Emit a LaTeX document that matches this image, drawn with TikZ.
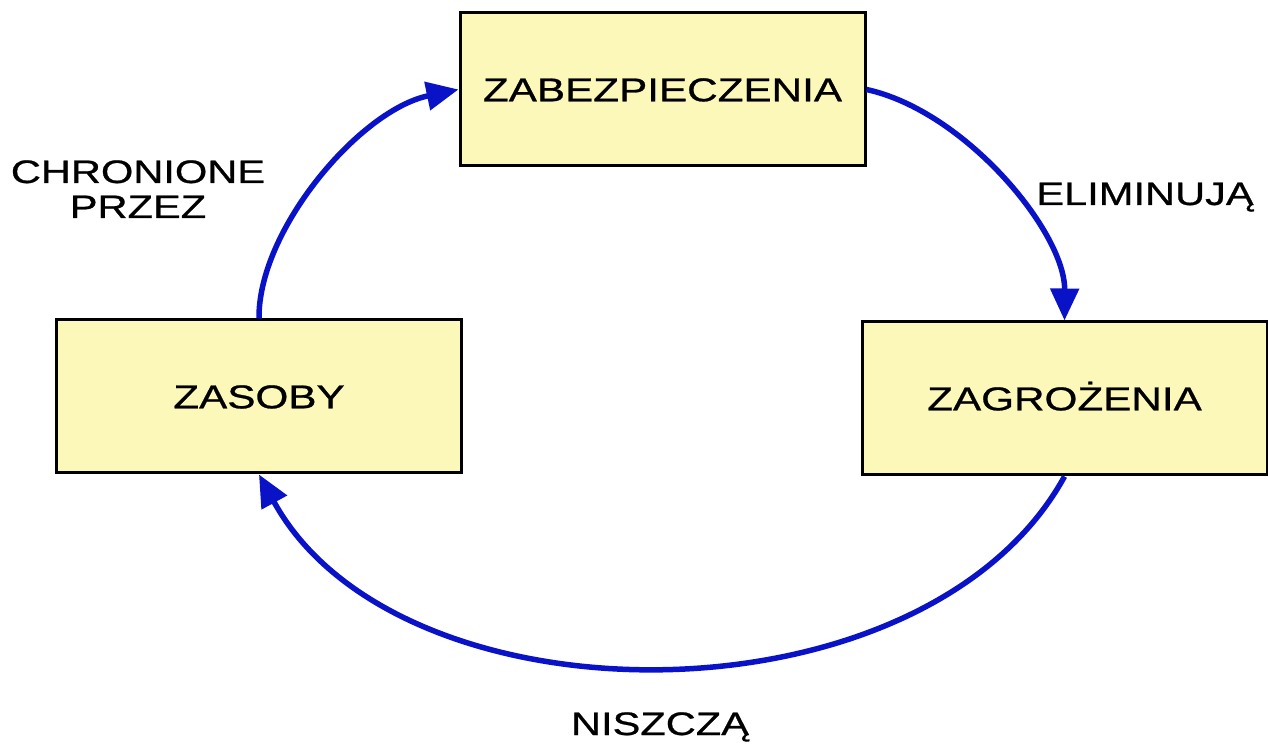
\documentclass[tikz,border=0pt]{standalone}
\usepackage{fontspec}
\setmainfont[FakeStretch=1.28,FakeBold=0.8]{Liberation Sans}
\usetikzlibrary{arrows.meta}
\definecolor{boxfill}{RGB}{251,248,186}
\definecolor{arrblue}{RGB}{10,18,200}
\tikzset{
  box/.style={draw=black, line width=3pt, fill=boxfill, minimum width=405pt, minimum height=153pt,
    inner sep=0pt, font=\fontsize{33}{37}\selectfont, text height=23.6pt, text depth=0pt},
  lbl/.style={inner sep=0pt, anchor=base, font=\fontsize{32.5}{36}\selectfont},
  arr/.style={draw=arrblue, line width=5.5pt, -{Triangle[length=32pt,width=28pt]}}
}
\begin{document}
\begin{tikzpicture}[x=1pt,y=1pt]
\useasboundingbox (0,0) rectangle (1268,750);
\fill[white] (0,0) rectangle (1268,750);
\node[box] (zab) at (662.5,660.5) {ZABEZPIECZENIA};
\node[box] (zas) at (259,353.5) {ZASOBY};
\node[box] (zag) at (1064.5,351.5) {ZAGROŻENIA};
\node[lbl] (chr1) at (138,567) {CHRONIONE};
\node[lbl] (chr2) at (138,532) {PRZEZ};
\node[lbl] (eli) at (1145,545) {ELIMINUJĄ};
\node[lbl] (nis) at (660,15) {NISZCZĄ};
\draw[arr] (zas.north) .. controls (258,520) and (360,640) .. (zab.west);
\draw[arr] (zab.east) .. controls (965,639) and (1065,518) .. (zag.north);
\draw[arr] (zag.south) .. controls (925,20) and (399,20) .. (zas.south);
\end{tikzpicture}
\end{document}
